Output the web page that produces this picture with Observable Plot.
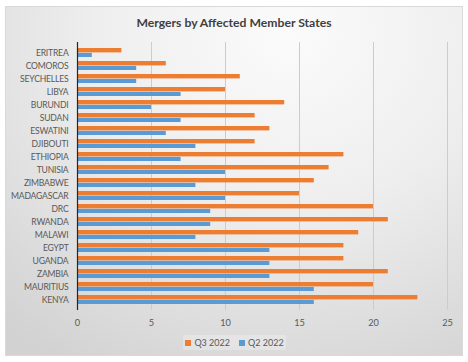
<!DOCTYPE html>
<html>
<head>
<meta charset="utf-8">
<script src="https://cdn.jsdelivr.net/npm/d3@7"></script>
<script src="https://cdn.jsdelivr.net/npm/@observablehq/plot@0.6"></script>
<style>
  html, body { margin: 0; padding: 0; background: #fff; }
  #wrap { position: relative; width: 468px; height: 362px; overflow: hidden; font-family: Lato, sans-serif; }
  #frame { position: absolute; left: 5px; top: 6px; width: 456px; height: 348px; border: 1px solid #d9d9d9;
    background: radial-gradient(ellipse 95% 110% at 62% 8%, #fbfbfb 0%, #eeeeee 45%, #d2d2d2 100%); }
  #title { position: absolute; left: 0; width: 468px; top: 15px; text-align: center; font-weight: bold; font-size: 12.2px; color: #404040; }
  #chart { position: absolute; left: 0; top: 0; }
  #legend { position: absolute; left: 183px; top: 335px; width: 103px; height: 15px; background: rgba(255,255,255,0.25); white-space: nowrap;
    font-size: 9px; color: #595959; display: flex; align-items: center; justify-content: center; gap: 9px; }
  .sw { display: inline-block; width: 6px; height: 6px; margin-right: 3px; vertical-align: 0px; }
</style>
</head>
<body>
<div id="wrap">
  <div id="frame"></div>
  <div id="title">Mergers by Affected Member States</div>
  <div id="chart"></div>
  <div id="legend"></div>
</div>
<script>
const countries = ["ERITREA","COMOROS","SEYCHELLES","LIBYA","BURUNDI","SUDAN","ESWATINI","DJIBOUTI","ETHIOPIA","TUNISIA","ZIMBABWE","MADAGASCAR","DRC","RWANDA","MALAWI","EGYPT","UGANDA","ZAMBIA","MAURITIUS","KENYA"];
const q3_2022 = [3,6,11,10,14,12,13,12,18,17,16,15,20,21,19,18,18,21,20,23];
const q2_2022 = [1,4,4,7,5,7,6,8,7,10,8,10,9,9,8,13,13,13,16,16];
const seriesNames = ["Q3 2022","Q2 2022"];
const seriesColors = ["#ED7D31","#5B9BD5"];
const xTicks = [0,5,10,15,20,25];

const q3Data = countries.map((c, i) => ({country: c, value: q3_2022[i], series: seriesNames[0]}));
const q2Data = countries.map((c, i) => ({country: c, value: q2_2022[i], series: seriesNames[1]}));

const chart = Plot.plot({
  width: 468,
  height: 334,
  marginLeft: 77,
  marginRight: 21,
  marginTop: 42,
  marginBottom: 24,
  style: {background: "transparent", fontFamily: "Lato, sans-serif", fontSize: "9.2px", color: "#595959"},
  x: {domain: [0, 25], ticks: xTicks, label: null, tickSize: 0, tickPadding: 9},
  y: {domain: countries, label: null, tickSize: 0, tickPadding: 9, padding: 0.3},
  color: {domain: seriesNames, range: seriesColors},
  marks: [
    Plot.ruleX(xTicks.filter(d => d > 0), {stroke: "#cccccc", strokeWidth: 1}),
    Plot.barX(q3Data, {x: "value", y: "country", fill: "series", insetBottom: 4.6}),
    Plot.barX(q2Data, {x: "value", y: "country", fill: "series", insetTop: 4.9}),
    Plot.ruleX([0], {stroke: "#262626", strokeWidth: 1.2})
  ]
});
document.getElementById("chart").appendChild(chart);

// condense the category labels slightly, like the reference's narrow font
chart.querySelectorAll('g[aria-label="y-axis tick label"] text').forEach(t => {
  t.style.fontSize = "8.6px";
  t.style.letterSpacing = "-0.2px";
});

const legend = document.getElementById("legend");
seriesNames.forEach((s, i) => {
  const item = document.createElement("span");
  item.innerHTML = `<span class="sw" style="background:${seriesColors[i]}"></span>${s}`;
  legend.appendChild(item);
});
</script>
</body>
</html>
